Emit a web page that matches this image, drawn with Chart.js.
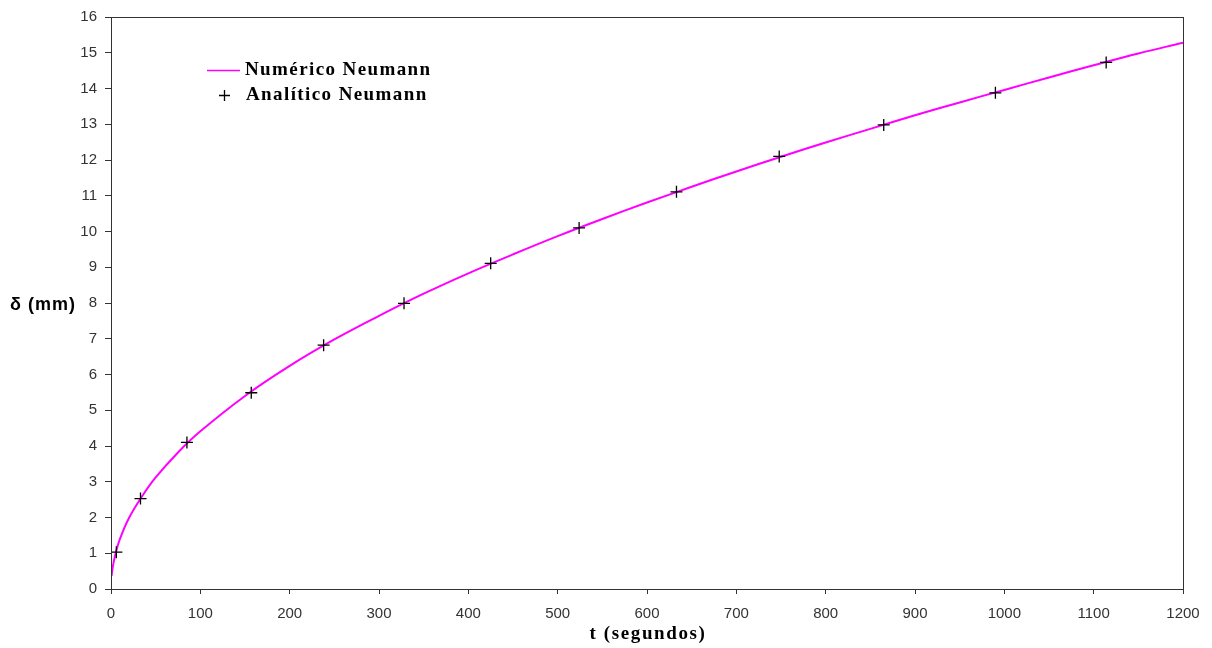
<!DOCTYPE html>
<html>
<head>
<meta charset="utf-8">
<script src="https://cdn.jsdelivr.net/npm/chart.js@4.4.0/dist/chart.umd.min.js"></script>
<style>
html,body{margin:0;padding:0;background:#fff;}
#wrap{width:1212px;height:648px;position:relative;}
</style>
</head>
<body>
<div id="wrap"><canvas id="c" width="1212" height="648"></canvas></div>
<script>
// Numerical solution (line)
const numT = [0.7, 2, 5, 10, 20, 35, 50, 75, 100, 150, 200, 250, 300, 350, 400, 450, 500, 550, 600, 650, 700, 750, 800, 850, 900, 950, 1000, 1050, 1100, 1150, 1200];
const numD = [0.37, 0.62, 0.98, 1.4, 1.98, 2.6, 3.12, 3.82, 4.41, 5.4, 6.24, 6.98, 7.64, 8.26, 8.83, 9.36, 9.87, 10.35, 10.81, 11.25, 11.68, 12.09, 12.49, 12.87, 13.25, 13.61, 13.96, 14.31, 14.65, 14.98, 15.28];
// Analytical solution (crosses)
const anaT = [6, 33, 85, 157, 238, 328, 425, 524, 633, 748, 865, 990, 1114];
const anaD = [1.03, 2.53, 4.1, 5.49, 6.82, 7.99, 9.11, 10.1, 11.11, 12.1, 12.98, 13.88, 14.73];
const xTicksMax = 1200, xStep = 100, yMax = 16, yStep = 1;
const labels = ['Numérico Neumann', 'Analítico Neumann'];
const xTitle = 't (segundos)', yTitle = 'δ (mm)';

const axisColor = '#333';
const frame = {
  id: 'frame',
  afterDatasetsDraw(chart) {
    const {ctx, chartArea: a} = chart;
    ctx.save();
    ctx.strokeStyle = axisColor; ctx.lineWidth = 1;
    ctx.strokeRect(Math.round(a.left) + 0.5, Math.round(a.top) + 0.5, Math.round(a.right - a.left), Math.round(a.bottom - a.top));
    // y-axis title (horizontal)
    ctx.fillStyle = '#000';
    ctx.letterSpacing = '1px';
    ctx.font = 'bold 18px "Liberation Sans", Arial, sans-serif';
    ctx.textAlign = 'left'; ctx.textBaseline = 'middle';
    ctx.fillText(yTitle, 10, (a.top + a.bottom) / 2 + 2);
    // x-axis title
    ctx.letterSpacing = '1.6px';
    ctx.font = 'bold 19px "Liberation Serif", "Times New Roman", serif';
    ctx.textAlign = 'center';
    ctx.fillText(xTitle, (a.left + a.right) / 2 + 1, 634);
    // legend
    const ds = chart.data.datasets;
    ctx.textAlign = 'left';
    ctx.letterSpacing = '1.4px';
    ctx.strokeStyle = ds[0].borderColor; ctx.lineWidth = 1.5;
    ctx.beginPath(); ctx.moveTo(207, 70.5); ctx.lineTo(240, 70.5); ctx.stroke();
    ctx.fillStyle = '#000';
    ctx.fillText(labels[0], 245, 70);
    ctx.strokeStyle = ds[1].borderColor; ctx.lineWidth = 1.3;
    ctx.beginPath(); ctx.moveTo(219, 95.5); ctx.lineTo(230, 95.5); ctx.moveTo(224.5, 90); ctx.lineTo(224.5, 101); ctx.stroke();
    ctx.fillText(labels[1], 246, 95);
    ctx.restore();
  }
};

new Chart(document.getElementById('c'), {
  type: 'scatter',
  data: {
    datasets: [
      {
        label: labels[0],
        data: numT.map((t, i) => ({x: t, y: numD[i]})),
        showLine: true, borderColor: '#ff00ff', borderWidth: 2,
        pointRadius: 0, tension: 0.4, order: 2
      },
      {
        label: labels[1],
        data: anaT.map((t, i) => ({x: t, y: anaD[i]})),
        showLine: false, pointStyle: 'cross', pointRadius: 6,
        borderColor: '#000', borderWidth: 1.3, order: 1
      }
    ]
  },
  options: {
    responsive: false, animation: false,
    layout: {padding: {left: 0, right: 29, top: 17, bottom: 0}},
    plugins: {legend: {display: false}, tooltip: {enabled: false}},
    scales: {
      x: {
        type: 'linear', min: 0, max: xTicksMax,
        afterFit(s) { s.height = 59; },
        ticks: {stepSize: xStep, color: '#333', padding: 11, callback: v => String(v), font: {family: '"Liberation Sans", Arial, sans-serif', size: 15}},
        grid: {drawOnChartArea: false, tickLength: 5, color: axisColor},
        border: {color: axisColor},
        title: {display: false}
      },
      y: {
        type: 'linear', min: 0, max: yMax,
        afterFit(s) { s.width = 111; },
        ticks: {stepSize: yStep, color: '#333', padding: 8, font: {family: '"Liberation Sans", Arial, sans-serif', size: 15}},
        grid: {drawOnChartArea: false, tickLength: 6, color: axisColor},
        border: {color: axisColor}
      }
    }
  },
  plugins: [frame]
});
</script>
</body>
</html>
